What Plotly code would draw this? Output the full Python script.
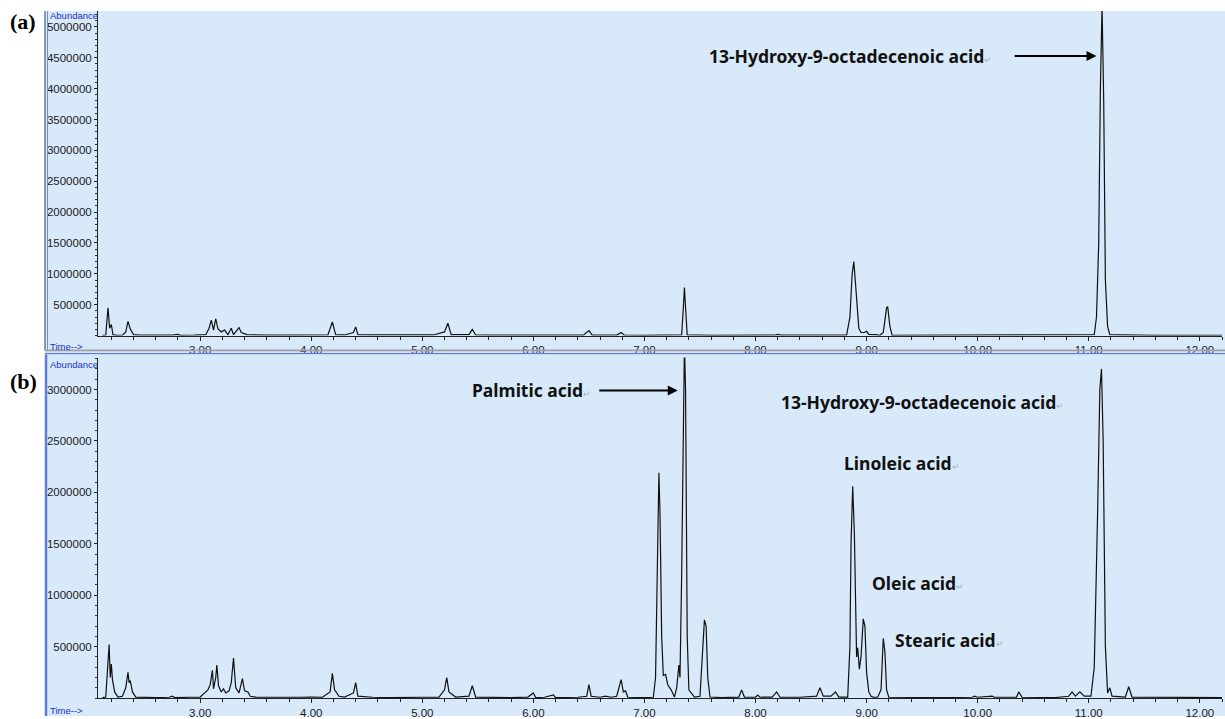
import plotly.graph_objects as go

# ---------------- data ----------------
# Panel (a): retention time (min) and abundance
time_a = [2.12, 2.15, 2.17, 2.185, 2.20, 2.215, 2.25, 2.30, 2.33, 2.35, 2.37, 2.40, 2.45, 2.60, 2.75, 2.80, 2.82,
          2.95, 3.00, 3.05, 3.08, 3.10, 3.12, 3.14, 3.16, 3.19, 3.22, 3.25, 3.28, 3.30, 3.35, 3.37, 3.42, 3.48,
          3.60, 3.80, 3.95, 4.05, 4.15, 4.19, 4.22, 4.30, 4.38, 4.40, 4.42, 4.55, 4.80, 5.00, 5.10, 5.20, 5.23,
          5.26, 5.35, 5.42, 5.45, 5.48, 5.60, 5.80, 6.00, 6.20, 6.45, 6.50, 6.53, 6.75, 6.79, 6.82, 7.00, 7.25,
          7.335, 7.35, 7.36, 7.37, 7.385, 7.60, 7.90, 8.18, 8.20, 8.23, 8.50, 8.60, 8.70, 8.82, 8.85, 8.87, 8.885,
          8.90, 8.93, 8.95, 8.98, 9.00, 9.02, 9.08, 9.12, 9.15, 9.18, 9.19, 9.21, 9.23, 9.60, 9.98, 10.00, 10.02,
          10.35, 10.38, 10.42, 10.70, 10.80, 10.95, 11.05, 11.07, 11.09, 11.105, 11.12, 11.135, 11.15, 11.17,
          11.19, 11.30, 11.45, 11.60, 12.20]
abund_a = [5000, 10000, 450000, 120000, 180000, 15000, 5000, 8000, 60000, 230000, 110000, 15000, 8000, 5000,
           8000, 20000, 5000, 8000, 10000, 15000, 120000, 250000, 90000, 270000, 110000, 60000, 90000, 15000,
           120000, 15000, 130000, 50000, 15000, 10000, 8000, 8000, 10000, 8000, 10000, 220000, 15000, 10000,
           50000, 140000, 15000, 10000, 8000, 8000, 10000, 60000, 200000, 15000, 10000, 15000, 100000, 10000,
           8000, 5000, 5000, 8000, 8000, 80000, 8000, 8000, 50000, 8000, 5000, 5000, 10000, 450000,
           780000, 450000, 10000, 5000, 5000, 8000, 20000, 8000, 8000, 12000, 8000, 8000, 300000, 1000000,
           1200000, 850000, 120000, 50000, 50000, 70000, 20000, 15000, 5000, 50000, 450000, 470000, 150000,
           5000, 5000, 5000, 12000, 5000, 5000, 15000, 5000, 5000, 12000, 10000, 15000, 300000, 1500000,
           4000000, 5350000, 3800000, 900000, 150000, 15000, 10000, 12000, 5000, 5000]

# Panel (b)
time_b = [2.12, 2.15, 2.17, 2.18, 2.19, 2.20, 2.21, 2.23, 2.26, 2.30, 2.33, 2.35, 2.36, 2.37, 2.39, 2.42, 2.60,
          2.72, 2.75, 2.77, 2.90, 2.95, 3.00, 3.04, 3.07, 3.09, 3.11, 3.12, 3.14, 3.15, 3.165, 3.19, 3.21, 3.23,
          3.26, 3.28, 3.30, 3.32, 3.35, 3.38, 3.40, 3.43, 3.45, 3.50, 3.60, 3.75, 3.90, 4.00, 4.10, 4.17, 4.19,
          4.21, 4.25, 4.30, 4.38, 4.40, 4.42, 4.55, 4.70, 5.00, 5.15, 5.20, 5.22, 5.24, 5.30, 5.42, 5.45, 5.48,
          5.60, 5.80, 5.95, 6.00, 6.02, 6.10, 6.18, 6.20, 6.40, 6.48, 6.50, 6.52, 6.60, 6.65, 6.70, 6.75, 6.79,
          6.81, 6.83, 6.85, 7.00, 7.08, 7.10, 7.115, 7.13, 7.14, 7.155, 7.17, 7.19, 7.21, 7.24, 7.27, 7.29, 7.31,
          7.32, 7.335, 7.35, 7.36, 7.37, 7.385, 7.40, 7.45, 7.50, 7.52, 7.54, 7.555, 7.57, 7.59, 7.70, 7.85,
          7.875, 7.90, 8.00, 8.02, 8.04, 8.15, 8.19, 8.22, 8.40, 8.55, 8.58, 8.61, 8.68, 8.72, 8.75, 8.83, 8.85,
          8.86, 8.875, 8.89, 8.91, 8.92, 8.935, 8.95, 8.97, 8.985, 9.00, 9.02, 9.04, 9.06, 9.10, 9.13, 9.15,
          9.165, 9.18, 9.20, 9.50, 9.60, 9.70, 9.95, 9.97, 10.00, 10.13, 10.15, 10.35, 10.37, 10.40, 10.70,
          10.82, 10.85, 10.88, 10.92, 10.96, 11.02, 11.05, 11.08, 11.10, 11.115, 11.13, 11.15, 11.17, 11.19,
          11.21, 11.33, 11.36, 11.39, 11.60, 12.20]
abund_b = [5000, 10000, 350000, 520000, 200000, 330000, 180000, 60000, 10000, 18000, 100000, 250000, 150000,
           170000, 60000, 10000, 5000, 8000, 18000, 5000, 8000, 12000, 10000, 50000, 80000, 130000, 270000,
           90000, 200000, 320000, 120000, 60000, 90000, 50000, 70000, 150000, 390000, 100000, 50000, 190000,
           70000, 60000, 18000, 10000, 8000, 5000, 8000, 10000, 8000, 60000, 240000, 80000, 18000, 10000,
           50000, 150000, 18000, 8000, 5000, 8000, 10000, 80000, 200000, 60000, 10000, 18000, 120000, 10000,
           8000, 5000, 10000, 50000, 5000, 8000, 30000, 5000, 8000, 18000, 130000, 18000, 8000, 18000,
           8000, 18000, 180000, 60000, 70000, 8000, 5000, 8000, 200000, 1300000, 2190000, 1800000, 600000,
           220000, 230000, 130000, 80000, 10000, 100000, 320000, 200000, 1200000, 3000000, 3450000, 3000000,
           600000, 80000, 10000, 18000, 400000, 760000, 700000, 200000, 10000, 5000, 10000, 80000, 10000, 8000,
           30000, 8000, 10000, 60000, 8000, 8000, 18000, 100000, 18000, 18000, 60000, 10000, 10000, 500000,
           1500000, 2060000, 1600000, 400000, 490000, 280000, 400000, 770000, 700000, 250000, 60000, 18000,
           10000, 8000, 80000, 580000, 450000, 80000, 8000, 5000, 10000, 5000, 8000, 18000, 8000, 18000,
           8000, 10000, 60000, 8000, 5000, 18000, 60000, 18000, 60000, 18000, 18000, 300000, 1800000, 3000000,
           3200000, 2500000, 500000, 50000, 100000, 18000, 10000, 110000, 10000, 8000, 5000]

# axis ticks
x_ticks = [3, 4, 5, 6, 7, 8, 9, 10, 11, 12]
x_labels = ["3.00", "4.00", "5.00", "6.00", "7.00", "8.00", "9.00", "10.00", "11.00", "12.00"]
y_ticks_a = [500000, 1000000, 1500000, 2000000, 2500000, 3000000, 3500000, 4000000, 4500000, 5000000]
y_ticks_b = [500000, 1000000, 1500000, 2000000, 2500000, 3000000]

# compound labels
labels_a = ["13-Hydroxy-9-octadecenoic acid"]
labels_b = ["Palmitic acid", "13-Hydroxy-9-octadecenoic acid", "Linoleic acid", "Oleic acid", "Stearic acid"]

# ---------------- figure ----------------
W, H = 1225, 719
BG = "#d8e9f9"


def px_x(p):
    return p / W


def px_y(p):
    return 1 - p / H


fig = go.Figure()
line = dict(color="#111111", width=1.2)
fig.add_trace(go.Scatter(x=time_a, y=abund_a, mode="lines", line=line, xaxis="x", yaxis="y",
                         showlegend=False, hoverinfo="skip"))
fig.add_trace(go.Scatter(x=time_b, y=abund_b, mode="lines", line=line, xaxis="x2", yaxis="y2",
                         showlegend=False, hoverinfo="skip"))

tickfont = dict(family="Liberation Sans, Arial, sans-serif", size=11.5, color="#1a1a1a")
xcommon = dict(range=[2.08, 12.2], domain=[px_x(98), px_x(1222)], tickmode="array",
               tickvals=x_ticks, ticktext=x_labels, ticks="outside", ticklen=4, tickwidth=1,
               tickcolor="#222", showline=True, linecolor="#222", linewidth=1, showgrid=False,
               zeroline=False, tickfont=tickfont, ticklabelstandoff=0,
               minor=dict(tickmode="linear", tick0=0, dtick=0.2, ticks="outside", ticklen=3,
                          tickcolor="#222", showgrid=False))
ycommon = dict(tickmode="array", ticks="outside", ticklen=3, tickwidth=1, tickcolor="#222",
               showline=True, linecolor="#222", linewidth=1, showgrid=False, zeroline=False,
               tickfont=tickfont, ticklabelstandoff=0,
               minor=dict(tickmode="linear", tick0=0, dtick=100000, ticks="outside", ticklen=2,
                          tickcolor="#333", showgrid=False))

ya_top, ya_bot = 11, 337
yb_top, yb_bot = 359, 701
ya_max = (ya_bot - ya_top) / 62.0e-6
yb_max = (yb_bot - yb_top) / 103.3e-6

fig.update_layout(
    width=W, height=H, margin=dict(l=0, r=0, t=0, b=0),
    paper_bgcolor="white", plot_bgcolor=BG,
    xaxis=dict(anchor="y", **xcommon),
    xaxis2=dict(anchor="y2", **xcommon),
    yaxis=dict(anchor="x", domain=[px_y(ya_bot), px_y(ya_top)], range=[0, ya_max],
               tickvals=y_ticks_a, ticktext=[str(v) for v in y_ticks_a], **ycommon),
    yaxis2=dict(anchor="x2", domain=[px_y(yb_bot), px_y(yb_top)], range=[0, yb_max],
                tickvals=y_ticks_b, ticktext=[str(v) for v in y_ticks_b], **ycommon),
)

# panel backgrounds and borders
shapes = [
    dict(type="rect", xref="paper", yref="paper", x0=px_x(45), x1=1, y0=px_y(352), y1=px_y(11),
         fillcolor=BG, line=dict(width=0), layer="below"),
    dict(type="rect", xref="paper", yref="paper", x0=px_x(45), x1=1, y0=0, y1=px_y(356),
         fillcolor=BG, line=dict(width=0), layer="below"),
    dict(type="line", xref="paper", yref="paper", x0=px_x(45), x1=px_x(45), y0=px_y(352), y1=px_y(11),
         line=dict(color="#8c9aac", width=2)),
    dict(type="line", xref="paper", yref="paper", x0=px_x(47.5), x1=px_x(47.5), y0=px_y(352), y1=px_y(11),
         line=dict(color="#6f8fd6", width=1)),
    dict(type="line", xref="paper", yref="paper", x0=px_x(46), x1=px_x(46), y0=0, y1=px_y(356),
         line=dict(color="#5b7fd8", width=2.5)),
    dict(type="line", xref="paper", yref="paper", x0=px_x(45), x1=1, y0=px_y(352), y1=px_y(352),
         line=dict(color="#9aa3ad", width=2)),
    dict(type="line", xref="paper", yref="paper", x0=px_x(45), x1=1, y0=px_y(355), y1=px_y(355),
         line=dict(color="#5b7fd8", width=1.5)),
]
fig.update_layout(shapes=shapes)

ann = []
blue_font = dict(family="Liberation Sans, Arial, sans-serif", size=9.5, color="#1c2fc8")
for ytxt in (16, 366):
    ann.append(dict(text="Abundance", xref="paper", yref="paper", x=px_x(48), y=px_y(ytxt),
                    xanchor="left", yanchor="middle", showarrow=False, font=blue_font))
for ytxt in (348, 713):
    ann.append(dict(text="Time-->", xref="paper", yref="paper", x=px_x(48), y=px_y(ytxt),
                    xanchor="left", yanchor="middle", showarrow=False, font=blue_font))
panel_font = dict(family="Liberation Serif, Times New Roman, serif", size=22, color="black")
ann.append(dict(text="<b>(a)</b>", xref="paper", yref="paper", x=px_x(23), y=px_y(22),
                xanchor="center", yanchor="middle", showarrow=False, font=panel_font))
ann.append(dict(text="<b>(b)</b>", xref="paper", yref="paper", x=px_x(23), y=px_y(383),
                xanchor="center", yanchor="middle", showarrow=False, font=panel_font))

lab_font = dict(family="Noto Sans, Open Sans, sans-serif", size=17.5, color="#111")
mark = "<span style='font-size:9px;color:#b0b0b0'>↵</span>"

# (a) label + arrow
ann.append(dict(text="<b>" + labels_a[0] + "</b>" + mark, xref="x", yref="y", x=7.56, y=4.53e6,
                xanchor="left", yanchor="middle", showarrow=False, font=lab_font))
ann.append(dict(text="", xref="x", yref="y", x=11.07, y=4.53e6, ax=10.32, ay=4.53e6,
                axref="x", ayref="y", showarrow=True, arrowhead=2, arrowsize=1, arrowwidth=2,
                arrowcolor="black"))

# (b) labels
pos_b = [(5.43, 2.99e6), (8.21, 2.88e6), (8.78, 2.29e6), (9.03, 1.12e6), (9.24, 0.56e6)]
for name, (xx, yy) in zip(labels_b, pos_b):
    ann.append(dict(text="<b>" + name + "</b>" + mark, xref="x2", yref="y2", x=xx, y=yy,
                    xanchor="left", yanchor="middle", showarrow=False, font=lab_font))
ann.append(dict(text="", xref="x2", yref="y2", x=7.3, y=2.99e6, ax=6.58, ay=2.99e6,
                axref="x2", ayref="y2", showarrow=True, arrowhead=2, arrowsize=1, arrowwidth=2,
                arrowcolor="black"))

fig.update_layout(annotations=ann)
fig.write_html("out.html")
